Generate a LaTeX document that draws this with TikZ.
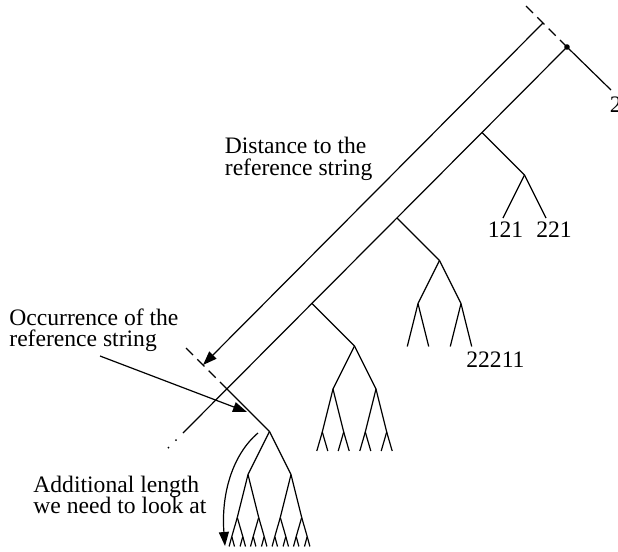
\documentclass[tikz,border=0pt]{standalone}
\usepackage{fontspec}
\setmainfont{Liberation Serif}
\usetikzlibrary{calc,arrows.meta}
\tikzset{
  ln/.style={line width=0.6pt},
  dsh/.style={line width=0.6pt,dash pattern=on 5pt off 3pt},
  ar/.style={-{Triangle[length=7pt,width=5pt]},line width=0.6pt},
  lab/.style={inner sep=0pt,anchor=base west,font=\fontsize{11.8}{10.8}\selectfont},
  txt/.style={inner sep=0pt,anchor=north west,align=left,font=\fontsize{11.8}{10.8}\selectfont}
}
\begin{document}
\begin{tikzpicture}[x=0.5pt,y=-0.5pt]
\useasboundingbox (0,0) rectangle (618,552);
\coordinate (s0) at (567,47);
\foreach \k in {1,2,3,4}{\coordinate (s\k) at ($(s0)+(-85*\k,85.5*\k)$);}
\coordinate (spend) at ($(s4)+(-44,44)$);
\coordinate (t0) at ($(s0)+(-41,-41)$);
\coordinate (t4) at ($(s4)+(-41,-41)$);
\coordinate (d0) at ($(s0)+(-24,-24)$);
\coordinate (d4) at ($(s4)+(-24,-24)$);
\draw[ln] (s0) -- (spend);
\fill (s0) circle (1.4pt);
\foreach \d in {7,14.5}{\fill ($(spend)+(-\d,\d)$) circle (0.5pt);}
\draw[dsh] (t0) -- (s0);
\draw[dsh] (t4) -- (s4);
\draw[ar] (d0) -- (d4);
\draw[ln] (s0) -- ++(44,43) coordinate (a0);
\foreach \k/\dep in {1/2,2/3,3/4,4/5}{
  \draw[ln] (s\k) -- ++(42.5,42.5) coordinate (a\k);
  \foreach \p in {-1,1}{
    \draw[ln] (a\k) -- ++(21.5*\p,43) coordinate (b);
    \ifnum\dep>2
    \foreach \q in {-1,1}{
      \draw[ln] (b) -- ++(10.7*\q,43) coordinate (c);
      \ifnum\dep>3
      \foreach \r in {-1,1}{
        \draw[ln] (c) -- ++(5.5*\r,19) coordinate (d);
        \ifnum\dep>4
        \foreach \m in {-1,1}{\draw[ln] (d) -- ++(2.7*\m,10);}
        \fi}
      \fi}
    \fi}
}
\node[lab] (l2) at (609.5,112) {2};
\node[lab] (l121) at (487.5,237) {121};
\node[lab] (l221) at (536,237) {221};
\node[lab] (l22211) at (466,367) {22211};
\node[txt] (dist) at (224.5,137) {Distance to the\\reference string};
\node[txt] (occ) at (9,308) {Occurrence of the\\reference string};
\node[txt] (addl) at (33,475.6) {Additional length\\we need to look at};
\coordinate (occfrom) at (100,356);
\coordinate (occtip) at (247,412);
\draw[ar] (occfrom) -- (occtip);
\coordinate (addfrom) at (258,433);
\coordinate (addto) at (225,546);
\draw[ar] (addfrom) .. controls (232,455) and (221,495) .. (addto);
\end{tikzpicture}
\end{document}
